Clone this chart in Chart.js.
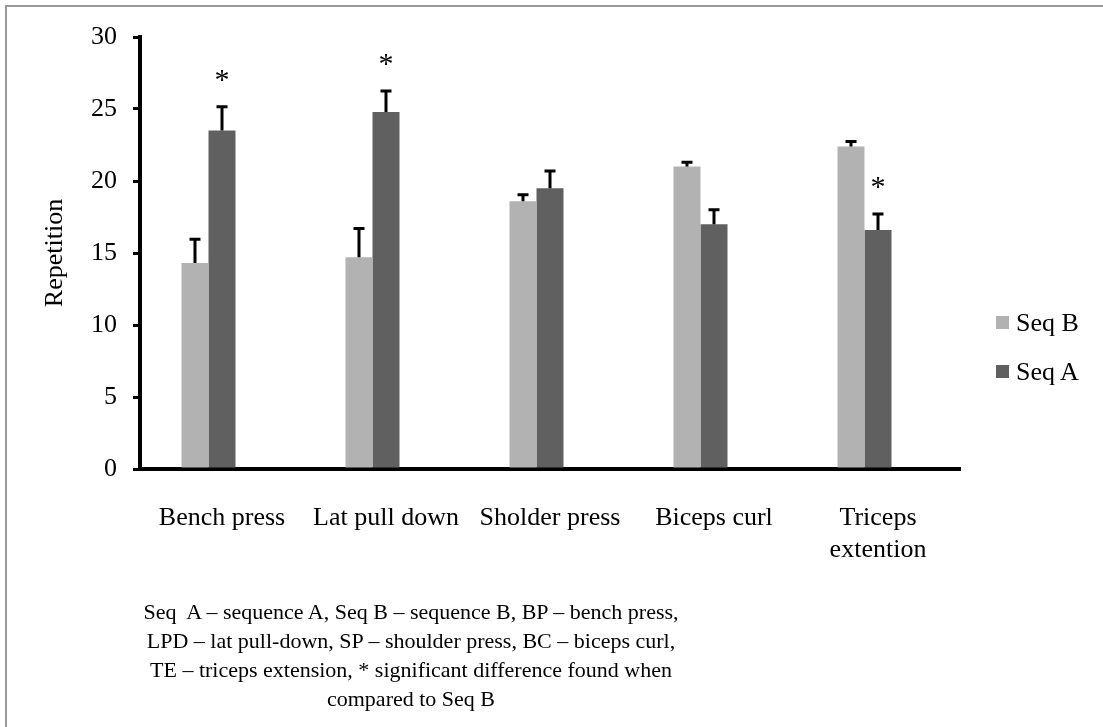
<!DOCTYPE html>
<html>
<head>
<meta charset="utf-8">
<script src="https://cdn.jsdelivr.net/npm/chart.js@4"></script>
<style>
  html, body { margin: 0; padding: 0; background: #fff; overflow: hidden; }
  #wrap { position: relative; width: 1103px; height: 727px; overflow: hidden; font-family: "Liberation Serif", "Times New Roman", serif; color: #000; }
  #frame { position: absolute; left: 5px; top: 5px; width: 1300px; height: 900px; border: 2px solid #999; }
  #myChart { position: absolute; left: 0; top: 0; }
  .leg { position: absolute; left: 996px; font-size: 26px; line-height: 30px; height: 30px; }
  .leg span.box { position: absolute; left: 0; top: 8px; width: 13px; height: 13px; }
  .leg span.txt { position: absolute; left: 20px; top: 0; white-space: nowrap; }
  #note { position: absolute; left: 111px; top: 597px; width: 600px; text-align: center; font-size: 22px; line-height: 29px; }
</style>
</head>
<body>
<div id="wrap">
  <div id="frame"></div>
  <canvas id="myChart" width="1103" height="727"></canvas>
  <div class="leg" style="top:308px"><span class="box" style="background:rgb(178,178,178)"></span><span class="txt">Seq B</span></div>
  <div class="leg" style="top:357px"><span class="box" style="background:rgb(96,96,96)"></span><span class="txt">Seq A</span></div>
  <div id="note">Seq&nbsp; A – sequence A, Seq B – sequence B, BP – bench press,<br>LPD – lat pull-down, SP – shoulder press, BC – biceps curl,<br>TE – triceps extension, * significant difference found when<br>compared to Seq B</div>
</div>
<script>
// data
const exercises = ['Bench press', 'Lat pull down', 'Sholder press', 'Biceps curl', ['Triceps', 'extention']];
const seqB = [14.3, 14.7, 18.6, 21.0, 22.4];
const seqBErr = [1.65, 2.0, 0.45, 0.3, 0.35];
const seqA = [23.5, 24.8, 19.5, 17.0, 16.6];
const seqAErr = [1.65, 1.45, 1.2, 1.0, 1.1];
const sigA = [true, true, false, false, true];
const yTicks = [0, 5, 10, 15, 20, 25, 30];

const errors = [seqBErr, seqAErr];

// error bars (upward only) and significance stars
const errorBars = {
    id: 'errorBars',
    afterDatasetsDraw(chart) {
        const c = chart.ctx;
        const y = chart.scales.y;
        c.save();
        c.strokeStyle = '#000';
        c.lineWidth = 3;
        errors.forEach((errs, i) => {
            const meta = chart.getDatasetMeta(i);
            const vals = chart.data.datasets[i].data;
            meta.data.forEach((bar, j) => {
                const top = y.getPixelForValue(vals[j] + errs[j]);
                c.beginPath();
                c.moveTo(bar.x, bar.y);
                c.lineTo(bar.x, top);
                c.moveTo(bar.x - 5.5, top);
                c.lineTo(bar.x + 5.5, top);
                c.stroke();
                if (i === 1 && sigA[j]) {
                    c.fillStyle = '#000';
                    c.font = '30px "Liberation Serif"';
                    c.textAlign = 'center';
                    c.textBaseline = 'alphabetic';
                    c.fillText('*', bar.x, top - 32 + 14);
                }
            });
        });
        c.restore();
    }
};

const ctx = document.getElementById('myChart').getContext('2d');
const myChart = new Chart(ctx, {
    type: 'bar',
    data: {
        labels: exercises,
        datasets: [{
            label: 'Seq B',
            data: seqB,
            backgroundColor: 'rgb(178,178,178)',
        }, {
            label: 'Seq A',
            data: seqA,
            backgroundColor: 'rgb(96,96,96)',
        }, {
            // empty third series, keeps the original group offset
            label: '',
            data: exercises.map(() => null),
            backgroundColor: 'rgba(0,0,0,0)',
        }]
    },
    options: {
        responsive: false,
        animation: false,
        layout: {
            padding: { left: 0, top: 37, right: 143, bottom: 0 }
        },
        datasets: {
            bar: { categoryPercentage: 0.494, barPercentage: 1 }
        },
        plugins: {
            legend: { display: false },
            tooltip: { enabled: false }
        },
        scales: {
            x: {
                grid: { display: false },
                border: { display: true, color: '#000', width: 4 },
                ticks: {
                    color: '#000',
                    padding: 26,
                    maxRotation: 0,
                    autoSkip: false,
                    font: { family: 'Liberation Serif', size: 26, lineHeight: 1.2 }
                },
                afterFit(scale) { scale.height = 258; }
            },
            y: {
                min: 0,
                max: 30,
                afterBuildTicks(scale) { scale.ticks = yTicks.map(v => ({ value: v })); },
                grid: { drawOnChartArea: false, color: '#000', lineWidth: 3, tickLength: 7 },
                border: { display: true, color: '#000', width: 4 },
                ticks: {
                    color: '#000',
                    padding: 16,
                    font: { family: 'Liberation Serif', size: 26 }
                },
                title: {
                    display: true,
                    text: 'Repetition',
                    color: '#000',
                    padding: { top: 40, bottom: 0 },
                    font: { family: 'Liberation Serif', size: 26, lineHeight: 1.2 }
                },
                afterFit(scale) { scale.width = 140; }
            }
        }
    },
    plugins: [errorBars]
});
</script>
</body>
</html>
